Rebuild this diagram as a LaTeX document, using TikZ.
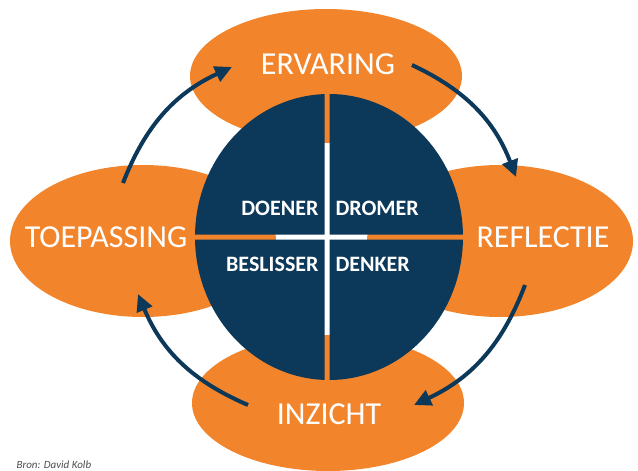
\documentclass[tikz,border=0pt]{standalone}
\usepackage{fontspec}
\setmainfont{Carlito}
\usetikzlibrary{shapes.geometric,arrows.meta}
\definecolor{kolborange}{RGB}{242,133,44}
\definecolor{kolbblue}{RGB}{12,56,89}
\tikzset{
  phase/.style={ellipse,fill=kolborange,inner sep=0pt},
  phaselabel/.style={text=white,font=\fontsize{32}{32}\selectfont},
  typelabel/.style={text=white,font=\bfseries\fontsize{22}{22}\selectfont},
  cyclearrow/.style={kolbblue,line width=4pt,-{Triangle[length=17pt,width=16pt]}},
}
\begin{document}
\begin{tikzpicture}[x=1pt,y=1pt]
\useasboundingbox (0,0) rectangle (638,-471);
\clip (0,0) rectangle (638,-471);

% the four phases
\node[phase,minimum width=272pt,minimum height=134pt] (ervaring) at (326,-76) {};
\node[phase,minimum width=266pt,minimum height=152pt] (toepassing) at (143,-241) {};
\node[phase,minimum width=266pt,minimum height=152pt] (reflectie) at (500,-241) {};
\node[phase,minimum width=272pt,minimum height=136pt] (inzicht) at (328,-403) {};

% the learning styles, split in four
\begin{scope}
\clip (150,-60) rectangle (324.5,-234.5)
      (329.5,-60) rectangle (500,-234.5)
      (150,-239.5) rectangle (324.5,-420)
      (329.5,-239.5) rectangle (500,-420);
\fill[kolbblue] (329,-237) ellipse [x radius=134, y radius=143];
\end{scope}

\node[phaselabel] (ervaringtxt) at (328,-64) {ERVARING};
\node[phaselabel] (toepassingtxt) at (106,-237) {TOEPASSING};
\node[phaselabel] (reflectietxt) at (543,-237) {REFLECTIE};
\node[phaselabel] (inzichttxt) at (329,-414) {INZICHT};

\node[typelabel,anchor=east] (doener) at (322,-208) {DOENER};
\node[typelabel,anchor=west] (dromer) at (332,-208) {DROMER};
\node[typelabel,anchor=east] (beslisser) at (322,-264) {BESLISSER};
\node[typelabel,anchor=west] (denker) at (332,-264) {DENKER};

% the cycle
\coordinate (a1) at (123,-183);
\coordinate (b1) at (232,-67);
\coordinate (a2) at (412,-65);
\coordinate (b2) at (516,-177);
\coordinate (a3) at (525,-285);
\coordinate (b3) at (414,-405);
\coordinate (a4) at (248,-405);
\coordinate (b4) at (138,-294);
\draw[cyclearrow] (a1) to[bend left=22] (b1);
\draw[cyclearrow] (a2) to[bend left=22] (b2);
\draw[cyclearrow] (a3) to[bend left=22] (b3);
\draw[cyclearrow] (a4) to[bend left=22] (b4);

\node[anchor=base west,text=black!70,font=\itshape\fontsize{11}{11}\selectfont] (bron) at (13,-468) {Bron: David Kolb};
\end{tikzpicture}
\end{document}
